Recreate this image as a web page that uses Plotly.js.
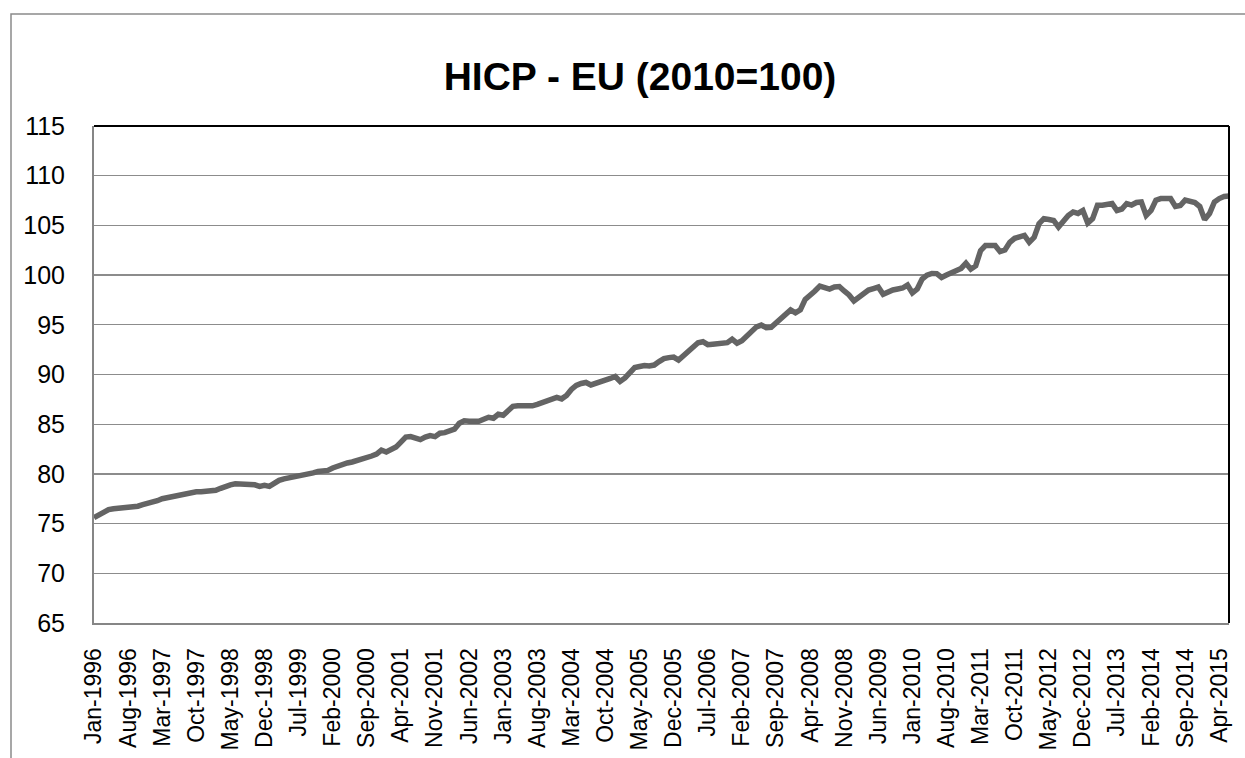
<!DOCTYPE html>
<html>
<head>
<meta charset="utf-8">
<script src="https://cdn.plot.ly/plotly-3.0.1.min.js"></script>
<style>
  html, body { margin: 0; padding: 0; background: #ffffff; }
  #chart { width: 1245px; height: 758px; }
</style>
</head>
<body>
<div id="chart"></div>
<script>
// Monthly HICP values (2010=100)
const y1996 = [75.6, 75.9, 76.2, 76.4, 76.5, 76.55, 76.55, 76.6, 76.6, 76.75, 76.9, 77.0];
const y1997 = [77.1, 77.3, 77.5, 77.6, 77.75, 77.9, 77.9, 78.0, 78.1, 78.2, 78.2, 78.25];
const y1998 = [78.2, 78.35, 78.55, 78.75, 78.9, 79.0, 79.0, 79.0, 79.0, 78.9, 78.75, 78.85];
const y1999 = [78.75, 79.1, 79.35, 79.5, 79.6, 79.7, 79.7, 79.85, 79.95, 80.1, 80.25, 80.35];
const y2000 = [80.35, 80.6, 80.8, 81.0, 81.1, 81.2, 81.35, 81.4, 81.6, 81.8, 82.0, 82.4];
const y2001 = [82.2, 82.4, 82.7, 83.2, 83.7, 83.75, 83.6, 83.45, 83.7, 83.85, 83.75, 84.1];
const y2002 = [84.15, 84.3, 84.5, 85.1, 85.35, 85.3, 85.25, 85.3, 85.5, 85.7, 85.6, 86.0];
const y2003 = [85.9, 86.3, 86.8, 86.85, 86.85, 86.85, 86.85, 87.0, 87.2, 87.35, 87.5, 87.7];
const y2004 = [87.55, 87.9, 88.5, 88.9, 89.1, 89.2, 88.95, 89.1, 89.2, 89.45, 89.6, 89.8];
const y2005 = [89.3, 89.65, 90.2, 90.7, 90.8, 90.9, 90.85, 90.95, 91.3, 91.6, 91.7, 91.75];
const y2006 = [91.45, 91.9, 92.4, 92.9, 93.2, 93.3, 93.0, 93.05, 93.1, 93.15, 93.2, 93.55];
const y2007 = [93.15, 93.4, 93.9, 94.4, 94.8, 94.97, 94.7, 94.75, 95.2, 95.6, 96.1, 96.5];
const y2008 = [96.2, 96.5, 97.55, 97.9, 98.4, 98.9, 98.75, 98.6, 98.8, 98.85, 98.4, 98.0];
const y2009 = [97.4, 97.8, 98.2, 98.5, 98.65, 98.8, 98.07, 98.3, 98.5, 98.6, 98.7, 99.0];
const y2010 = [98.2, 98.6, 99.6, 100.0, 100.17, 100.15, 99.76, 100.0, 100.26, 100.5, 100.67, 101.2];
const y2011 = [100.6, 100.94, 102.46, 102.97, 103.0, 102.97, 102.36, 102.53, 103.3, 103.7, 103.85, 104.0];
const y2012 = [103.3, 103.8, 105.17, 105.68, 105.6, 105.5, 104.83, 105.5, 106.0, 106.35, 106.2, 106.5];
const y2013 = [105.23, 105.68, 107.03, 107.03, 107.1, 107.2, 106.5, 106.65, 107.2, 107.05, 107.3, 107.36];
const y2014 = [106.0, 106.5, 107.54, 107.7, 107.7, 107.7, 106.9, 107.0, 107.54, 107.45, 107.3, 106.9];
const y2015 = [105.58, 106.2, 107.36, 107.7, 107.9, 107.95];

const monthNames = ["Jan","Feb","Mar","Apr","May","Jun","Jul","Aug","Sep","Oct","Nov","Dec"];
const startYear = 1996;

const tickLabels = [
  "Jan-1996","Aug-1996","Mar-1997","Oct-1997","May-1998","Dec-1998","Jul-1999",
  "Feb-2000","Sep-2000","Apr-2001","Nov-2001","Jun-2002","Jan-2003","Aug-2003",
  "Mar-2004","Oct-2004","May-2005","Dec-2005","Jul-2006","Feb-2007","Sep-2007",
  "Apr-2008","Nov-2008","Jun-2009","Jan-2010","Aug-2010","Mar-2011","Oct-2011",
  "May-2012","Dec-2012","Jul-2013","Feb-2014","Sep-2014","Apr-2015"
];

const yearly = [y1996,y1997,y1998,y1999,y2000,y2001,y2002,y2003,y2004,y2005,
                y2006,y2007,y2008,y2009,y2010,y2011,y2012,y2013,y2014,y2015];

const values = [];
const categories = [];
yearly.forEach((arr, i) => {
  arr.forEach((v, m) => {
    values.push(v);
    categories.push(monthNames[m] + "-" + (startYear + i));
  });
});

// plot area geometry (px) used for decorative borders
const L = 94, R = 16, T = 126, B = 135;
const W = 1245, H = 758;
const pw = W - L - R, ph = H - T - B;
const px = x => (x - L) / pw;
const py = y => (H - B - y) / ph;

const trace = {
  x: categories,
  y: values,
  type: "scatter",
  mode: "lines",
  line: { color: "#646464", width: 5.5, shape: "linear" },
  hoverinfo: "x+y"
};

const layout = {
  width: W,
  height: H,
  margin: { l: L, r: R, t: T, b: B },
  paper_bgcolor: "#ffffff",
  plot_bgcolor: "#ffffff",
  showlegend: false,
  font: { family: "Liberation Sans, Arial, sans-serif", color: "#000000" },
  title: {
    text: "<b>HICP - EU (2010=100)</b>",
    font: { family: "Liberation Sans, Arial, sans-serif", size: 39, color: "#000000" },
    x: 640 / W, xref: "container", xanchor: "center",
    y: 1 - 76 / H, yref: "container", yanchor: "middle"
  },
  xaxis: {
    type: "category",
    range: [0, values.length - 1],
    tickmode: "array",
    tickvals: tickLabels,
    ticktext: tickLabels,
    tickangle: -90,
    tickfont: { size: 23, color: "#000000" },
    ticks: "outside",
    ticklen: 14,
    tickcolor: "rgba(0,0,0,0)",
    showgrid: false,
    showline: true,
    linecolor: "#868686",
    linewidth: 2,
    zeroline: false,
    fixedrange: true
  },
  yaxis: {
    range: [65, 115],
    tickmode: "linear",
    tick0: 65,
    dtick: 5,
    tickfont: { size: 25, color: "#000000" },
    ticks: "outside",
    ticklen: 22,
    tickcolor: "rgba(0,0,0,0)",
    showgrid: true,
    gridcolor: "#8c8c8c",
    gridwidth: 1.4,
    showline: true,
    linecolor: "#868686",
    linewidth: 2,
    zeroline: false,
    fixedrange: true
  },
  shapes: [
    // plot-area border (top and right, black)
    { type: "line", xref: "paper", yref: "paper", x0: 0, x1: 1, y0: 1, y1: 1,
      line: { color: "#000000", width: 2 }, layer: "above" },
    { type: "line", xref: "paper", yref: "paper", x0: 1, x1: 1, y0: 0, y1: 1,
      line: { color: "#000000", width: 2 }, layer: "above" },
    // outer chart frame
    { type: "rect", xref: "paper", yref: "paper",
      x0: px(11), x1: px(1260), y0: py(14), y1: py(775),
      line: { color: "#8a8a8a", width: 1.5 }, fillcolor: "rgba(0,0,0,0)", layer: "above" }
  ]
};

Plotly.newPlot("chart", [trace], layout, { displayModeBar: false, staticPlot: true });
</script>
</body>
</html>
